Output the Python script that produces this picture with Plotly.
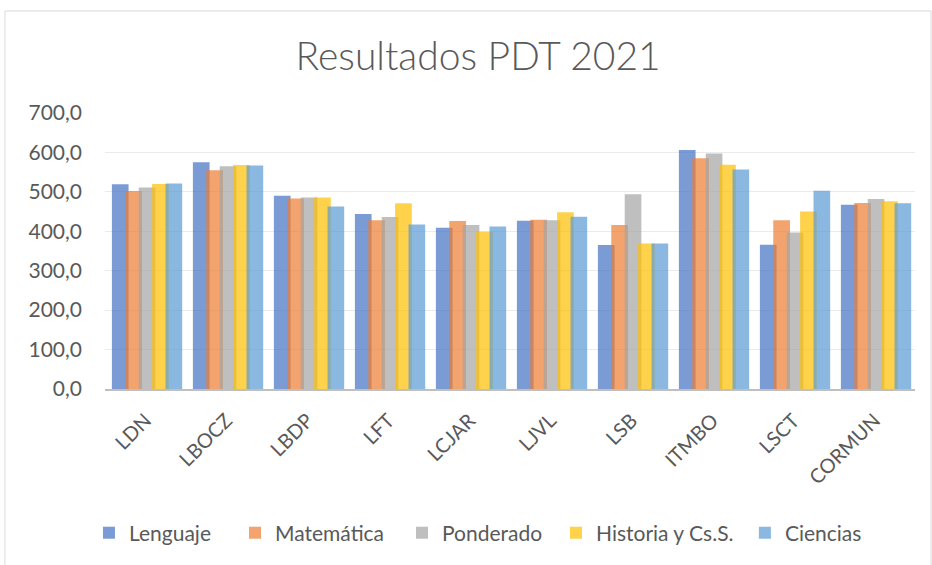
import plotly.graph_objects as go

categories = ["LDN", "LBOCZ", "LBDP", "LFT", "LCJAR", "LJVL", "LSB", "ITMBO", "LSCT", "CORMUN"]
lenguaje = [519, 575, 490, 444, 409, 427, 365, 606, 366, 467]
matematica = [502, 555, 483, 428, 426, 429, 416, 585, 428, 472]
ponderado = [511, 565, 486, 436, 416, 428, 494, 597, 397, 482]
historia = [520, 568, 486, 471, 399, 448, 369, 569, 450, 476]
ciencias = [521, 567, 463, 417, 412, 437, 369, 557, 503, 471]

series = [
    ("Lenguaje", lenguaje, "#4472C4"),
    ("Matemática", matematica, "#ED7D31"),
    ("Ponderado", ponderado, "#A5A5A5"),
    ("Historia y Cs.S.", historia, "#FFC000"),
    ("Ciencias", ciencias, "#5B9BD5"),
]
legend_x = [-0.0198, 0.1605, 0.3667, 0.5568, 0.7900]

FONT = "Lato"
W = 0.206
STEP = 0.1655
fig = go.Figure()
layout_legends = {}
for i, (name, vals, col) in enumerate(series):
    lg = "legend" if i == 0 else f"legend{i + 1}"
    fig.add_trace(go.Bar(
        x=categories, y=vals, name=name, legend=lg, showlegend=True,
        marker=dict(color=col, line=dict(width=0)),
        opacity=0.7, width=W, offset=-0.415 + i * STEP,
    ))
    layout_legends[lg] = dict(orientation="h", x=legend_x[i], xanchor="left", y=-0.522, yanchor="middle",
                              font=dict(family=FONT, size=21, color="#595959"), itemwidth=30,
                              bgcolor="rgba(0,0,0,0)")

fig.update_layout(
    width=932, height=565,
    showlegend=True,
    barmode="overlay",
    separators=",.",
    paper_bgcolor="white", plot_bgcolor="white",
    margin=dict(l=105, r=17, t=113, b=176),
    title=dict(text="Resultados PDT 2021", x=0.513, xanchor="center", y=0.9, yanchor="middle",
               font=dict(family=FONT, size=39, color="#595959", weight=300)),
    font=dict(family=FONT, color="#595959"),
    xaxis=dict(type="category", tickangle=-45, tickfont=dict(size=20, color="#595959"),
               showline=True, linecolor="#BFBFBF", linewidth=2, ticks="", showgrid=False,
               ticklabelstandoff=10, range=[-0.5, len(categories) - 0.5]),
    yaxis=dict(range=[0, 700], dtick=100, tickformat=".1f", tickfont=dict(size=21, color="#595959"),
               showgrid=True, gridcolor="#EBEBEB", gridwidth=1, zeroline=False, ticks="",
               ticklabelstandoff=22),
    shapes=[dict(type="rect", xref="paper", yref="paper", x0=-0.1235, x1=1.0198, y0=-0.7, y1=1.3696,
                 line=dict(color="#D9D9D9", width=1), layer="below")],
    **layout_legends,
)

fig.write_html("out.html", config={"displayModeBar": False},
               post_script="document.body.style.margin='0';")
